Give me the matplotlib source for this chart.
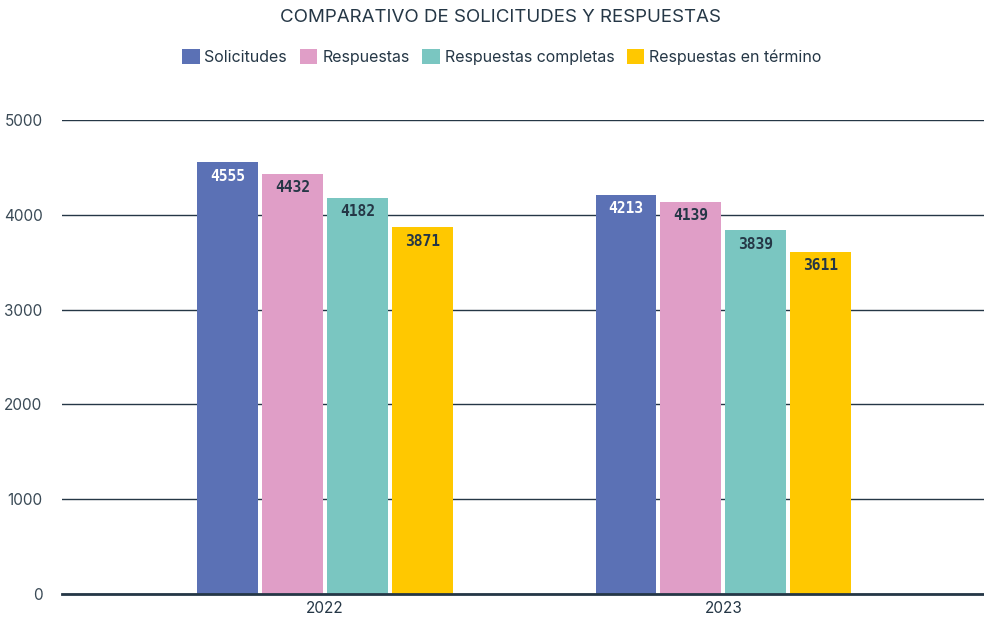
import matplotlib
matplotlib.use("Agg")
import matplotlib.pyplot as plt
from matplotlib.patches import Patch
import numpy as np

years = ["2022", "2023"]
series = ["Solicitudes", "Respuestas", "Respuestas completas", "Respuestas en término"]
solicitudes = [4555, 4213]
respuestas = [4432, 4139]
completas = [4182, 3839]
en_termino = [3871, 3611]
yticks = [0, 1000, 2000, 3000, 4000, 5000]

values = [solicitudes, respuestas, completas, en_termino]
colors = ["#5B71B5", "#E09EC7", "#7AC6C1", "#FFC800"]
label_colors = ["white", "#253746", "#253746", "#253746"]
dark = "#253746"

plt.rcParams['font.family'] = ['Inter', 'DejaVu Sans']

fig = plt.figure(figsize=(9.84, 6.18), dpi=100)
ax = fig.add_axes([62/984, 1-594/618, 1-62/984, (594-120)/618])

x = np.arange(len(years))
width = 0.153
step = 0.163
for i, (vals, c) in enumerate(zip(values, colors)):
    pos = x + (i - 1.5) * step
    bars = ax.bar(pos, vals, width=width, color=c, zorder=3)
    for b, v in zip(bars, vals):
        ax.text(b.get_x() + b.get_width()/2, v - 70, str(v), ha='center', va='top',
                fontsize=10.5, fontweight='bold', family='DejaVu Sans Mono',
                color=label_colors[i], zorder=4)

ax.set_ylim(0, 5000)
ax.set_xlim(-0.66, 1.654)
ax.set_yticks(yticks)
ax.set_yticklabels([str(t) for t in yticks])
ax.set_xticks(x)
ax.set_xticklabels(years)
ax.grid(axis='y', color=dark, linewidth=1, zorder=1)
ax.set_axisbelow(True)
for s in ['top', 'right', 'left']:
    ax.spines[s].set_visible(False)
ax.spines['bottom'].set_color(dark)
ax.spines['bottom'].set_linewidth(2)
ax.spines['bottom'].set_zorder(5)
ax.tick_params(axis='both', length=0, colors=dark, labelsize=11)
ax.tick_params(axis='y', pad=14)
ax.tick_params(axis='x', pad=5)
for lbl in ax.get_yticklabels():
    lbl.set_color("#3a4a56")

fig.text(0.509, 1-17/618, "COMPARATIVO DE SOLICITUDES Y RESPUESTAS", ha='center', va='center',
         fontsize=13.5, color=dark)

handles = [Patch(facecolor=c, edgecolor='none') for c in colors]
fig.legend(handles, series, loc='center', bbox_to_anchor=(0.51, 1-57/618), ncol=4,
           frameon=False, fontsize=11.5, handlelength=1.1, handleheight=1.1,
           handletextpad=0.3, columnspacing=0.8, labelcolor=dark)

fig.savefig("out.png", dpi=100)
